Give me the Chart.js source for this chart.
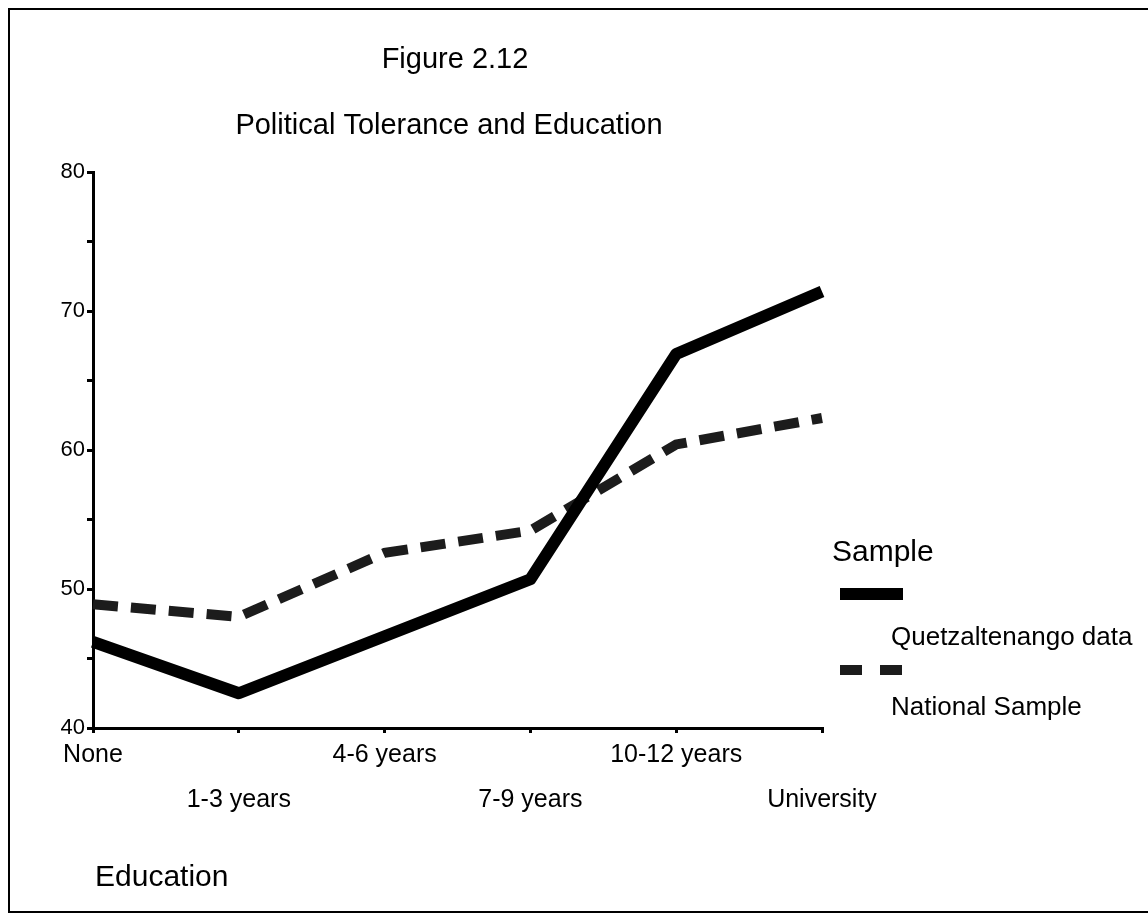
<!DOCTYPE html>
<html>
<head>
<meta charset="utf-8">
<script src="https://cdn.jsdelivr.net/npm/chart.js@4.4.1/dist/chart.umd.min.js"></script>
<style>
  html, body { margin: 0; padding: 0; background: #fff; }
  #wrap { width: 1148px; height: 918px; position: relative; }
</style>
</head>
<body>
<div id="wrap"><canvas id="toleranceChart"></canvas></div>
<script>
const categories = ['None', '1-3 years', '4-6 years', '7-9 years', '10-12 years', 'University'];
const quetzaltenango = [46.2, 42.5, 46.6, 50.7, 66.9, 71.4];
const nationalSample = [48.9, 48.0, 52.6, 54.2, 60.4, 62.3];
const yTickLabels = [40, 50, 60, 70, 80];

const FONT = '"Liberation Sans", Arial, Helvetica, sans-serif';

// titles, legend, axis title and outer frame
const decorations = {
  id: 'decorations',
  afterDraw(chart) {
    const ctx = chart.ctx;
    ctx.save();
    ctx.fillStyle = '#000';
    ctx.textBaseline = 'middle';

    ctx.font = '29px ' + FONT;
    ctx.textAlign = 'center';
    ctx.fillText('Figure 2.12', 455, 60);
    ctx.fillText('Political Tolerance and Education', 449, 126);

    ctx.textAlign = 'left';
    ctx.font = '30px ' + FONT;
    ctx.fillText('Education', 95, 878);
    ctx.fillText('Sample', 832, 553);

    // legend samples from the datasets
    const ds = chart.data.datasets;
    const rows = [[594, 638], [670, 708]];
    ds.forEach((d, i) => {
      ctx.beginPath();
      ctx.lineWidth = d.borderWidth;
      ctx.strokeStyle = d.borderColor;
      ctx.setLineDash(d.borderDash ? [22, 18] : []);
      ctx.moveTo(840, rows[i][0]);
      ctx.lineTo(903, rows[i][0]);
      ctx.stroke();
      ctx.setLineDash([]);
      ctx.font = '26px ' + FONT;
      ctx.fillText(d.label, 891, rows[i][1]);
    });

    ctx.lineWidth = 2;
    ctx.strokeStyle = '#000';
    ctx.strokeRect(9, 9, 1140, 903);
    ctx.restore();
  }
};

new Chart(document.getElementById('toleranceChart'), {
  type: 'line',
  data: {
    labels: categories,
    datasets: [
      {
        label: 'Quetzaltenango data',
        data: quetzaltenango,
        borderColor: '#000',
        borderWidth: 12,
        borderCapStyle: 'butt',
        borderJoinStyle: 'round',
        pointRadius: 0,
        tension: 0
      },
      {
        label: 'National Sample',
        data: nationalSample,
        borderColor: '#1c1c1c',
        borderWidth: 10,
        borderDash: [25, 13],
        borderCapStyle: 'butt',
        pointRadius: 0,
        tension: 0
      }
    ]
  },
  options: {
    responsive: true,
    maintainAspectRatio: false,
    animation: false,
    layout: {
      padding: { top: 172, right: 326, bottom: 90, left: 0 }
    },
    plugins: {
      legend: { display: false },
      tooltip: { enabled: false }
    },
    scales: {
      x: {
        offset: false,
        afterFit(scale) { scale.height = 100; },
        border: { color: '#000', width: 3 },
        grid: {
          drawOnChartArea: false,
          color: '#000',
          lineWidth: 3,
          tickLength: 5
        },
        ticks: {
          color: '#000',
          font: { family: FONT, size: 25, lineHeight: 1.8 },
          padding: 0,
          maxRotation: 0,
          autoSkip: false,
          callback(value, index) {
            const name = categories[index];
            return index % 2 === 0 ? [name, ''] : ['', name];
          }
        }
      },
      y: {
        min: 40,
        max: 80,
        afterFit(scale) { scale.width = 93; },
        border: { color: '#000', width: 3 },
        grid: {
          drawOnChartArea: false,
          color: '#000',
          lineWidth: 3,
          tickLength: 6
        },
        ticks: {
          stepSize: 5,
          color: '#000',
          font: { family: FONT, size: 22 },
          padding: 2,
          callback(value) {
            return yTickLabels.includes(value) ? String(value) : '';
          }
        }
      }
    }
  },
  plugins: [decorations]
});
</script>
</body>
</html>
